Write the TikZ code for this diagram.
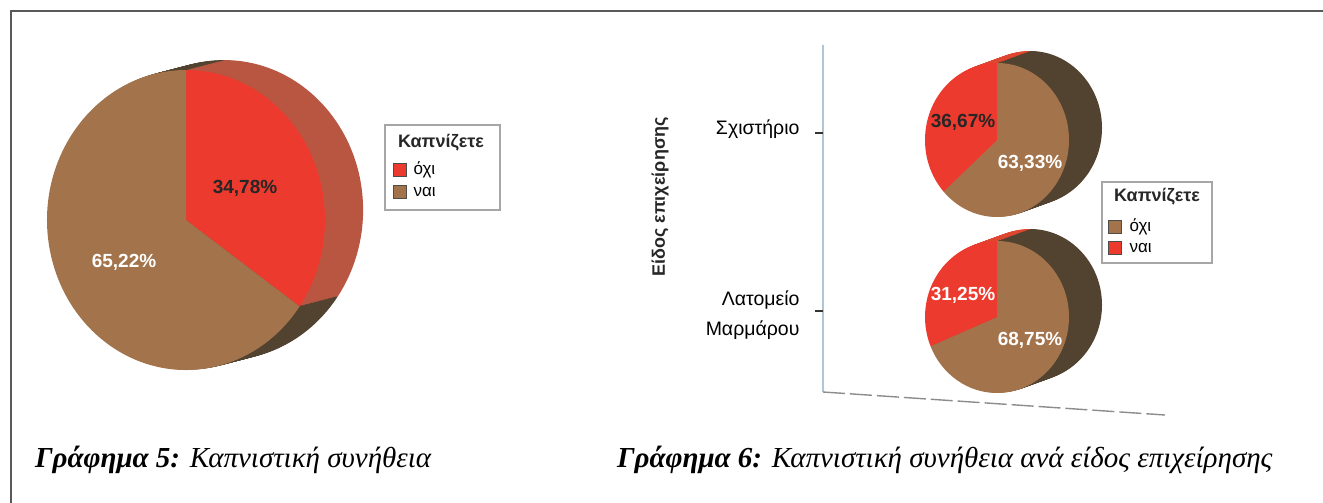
\documentclass[tikz,border=0pt]{standalone}
\usepackage{fontspec}
\setmainfont{Liberation Sans}
\newfontfamily\captionfont{Liberation Serif}
\usetikzlibrary{calc}

\definecolor{pieRed}{RGB}{236,58,46}
\definecolor{pieBrown}{RGB}{163,116,76}
\definecolor{redSide}{RGB}{184,86,66}
\definecolor{redSideB}{RGB}{222,70,48}
\definecolor{brownSide}{RGB}{82,66,48}
\definecolor{axisBlue}{RGB}{176,198,212}

% one face of a pie: centre, x radius, y radius, split angle, first colour, second colour
\newcommand{\pieface}[6]{%
  \fill[#5] (#1) -- ++(-90:#2 and #3) arc[start angle=-90, end angle=#4, x radius=#2, y radius=#3] -- cycle;
  \fill[#6] (#1) -- ++(#4:#2 and #3) arc[start angle=#4, end angle=270, x radius=#2, y radius=#3] -- cycle;}

\begin{document}
\begin{tikzpicture}[
  x = 1pt, y = -1pt,
  lbl/.style = { font = \fontsize{17}{30}\selectfont },
  catlbl/.style = { font = \fontsize{19.5}{30}\selectfont },
  pct/.style = { font = \bfseries\fontsize{19}{21}\selectfont },
  legtitle/.style = { font = \bfseries\fontsize{18}{20}\selectfont, text = black!85 },
  legbox/.style = { draw = black!35, line width = 2pt, fill = white },
  swatch/.style = { draw = black!70, line width = 0.8pt, minimum size = 13pt, inner sep = 0pt },
  caption/.style = { anchor = base west, inner sep = 0pt, font = \captionfont\itshape\fontsize{29}{31}\selectfont }
]
  \useasboundingbox (0, 0) rectangle (1323, 503);

  % frame
  \coordinate (frameA) at (11, 503);
  \coordinate (frameB) at (11, 11);
  \coordinate (frameC) at (1323, 11);
  \draw[black!65, line width = 2pt] (frameA) -- (frameB) -- (frameC);

  % Graph 5
  \coordinate (pieL) at (186, 220);
  \foreach \k in {30, 29, ..., 1} {
    \pieface{$(pieL) + (\k*1.27, -\k*0.33)$}{139}{150}{35.2}{redSide}{brownSide}
  }
  \pieface{pieL}{139}{150}{35.2}{pieRed}{pieBrown}

  \node[pct, text = black!85] (pctLno) at (245, 188) {34,78\%};
  \node[pct, text = white] (pctLyes) at (124, 262) {65,22\%};

  \node[legbox, minimum width = 115pt, minimum height = 85pt] (legL) at (442.5, 167.5) {};
  \node[legtitle] (legLtitle) at (441, 143) {Καπνίζετε};
  \node[swatch, fill = pieRed] (swLno) at (400, 170) {};
  \node[swatch, fill = pieBrown] (swLyes) at (400, 192) {};
  \node[lbl, anchor = west] (txtLno) at (410, 170) {όχι};
  \node[lbl, anchor = west] (txtLyes) at (410, 192) {ναι};

  % Graph 6
  \coordinate (yTop) at (823, 45);
  \coordinate (origin) at (823, 392);
  \coordinate (xEnd) at (1165, 415);
  \draw[axisBlue, line width = 1.6pt] (yTop) -- (origin);
  \draw[black!45, line width = 1.4pt, dash pattern = on 22pt off 5pt] (origin) -- (xEnd);

  \coordinate (tickSa) at (815, 133);
  \coordinate (tickSb) at (823, 133);
  \coordinate (tickMa) at (815, 311);
  \coordinate (tickMb) at (823, 311);
  \draw[black!80, line width = 1.6pt] (tickSa) -- (tickSb);
  \draw[black!80, line width = 1.6pt] (tickMa) -- (tickMb);

  \node[catlbl, anchor = east] (catS) at (803, 129) {Σχιστήριο};
  \node[catlbl, anchor = east, align = right] (catM) at (803, 315) {Λατομείο\\Μαρμάρου};
  \node[legtitle, rotate = 90] (axisTitle) at (660, 197) {Είδος επιχείρησης};

  \coordinate (pieS) at (997, 140);
  \foreach \k in {30, 29, ..., 1} {
    \pieface{$(pieS) + (\k*1.1, -\k*0.4)$}{72}{77}{138}{brownSide}{redSideB}
  }
  \pieface{pieS}{72}{77}{138}{pieBrown}{pieRed}

  \coordinate (pieM) at (997, 317);
  \foreach \k in {30, 29, ..., 1} {
    \pieface{$(pieM) + (\k*1.1, -\k*0.4)$}{72}{76}{157.5}{brownSide}{redSideB}
  }
  \pieface{pieM}{72}{76}{157.5}{pieBrown}{pieRed}

  \node[pct, text = black!85] (pctSyes) at (963, 122) {36,67\%};
  \node[pct, text = white] (pctSno) at (1030, 163) {63,33\%};
  \node[pct, text = white] (pctMyes) at (963, 295) {31,25\%};
  \node[pct, text = white] (pctMno) at (1030, 340) {68,75\%};

  \node[legbox, minimum width = 110pt, minimum height = 81pt] (legR) at (1157, 222.5) {};
  \node[legtitle] (legRtitle) at (1157, 197) {Καπνίζετε};
  \node[swatch, fill = pieBrown] (swRno) at (1115, 227) {};
  \node[swatch, fill = pieRed] (swRyes) at (1115, 248) {};
  \node[lbl, anchor = west] (txtRno) at (1126, 227) {όχι};
  \node[lbl, anchor = west] (txtRyes) at (1126, 248) {ναι};

  % captions
  \node[caption] (capL) at (35, 467) {\textbf{Γράφημα 5:} Καπνιστική συνήθεια};
  \node[caption] (capR) at (617, 467) {\textbf{Γράφημα 6:} Καπνιστική συνήθεια ανά είδος επιχείρησης};
\end{tikzpicture}
\end{document}
